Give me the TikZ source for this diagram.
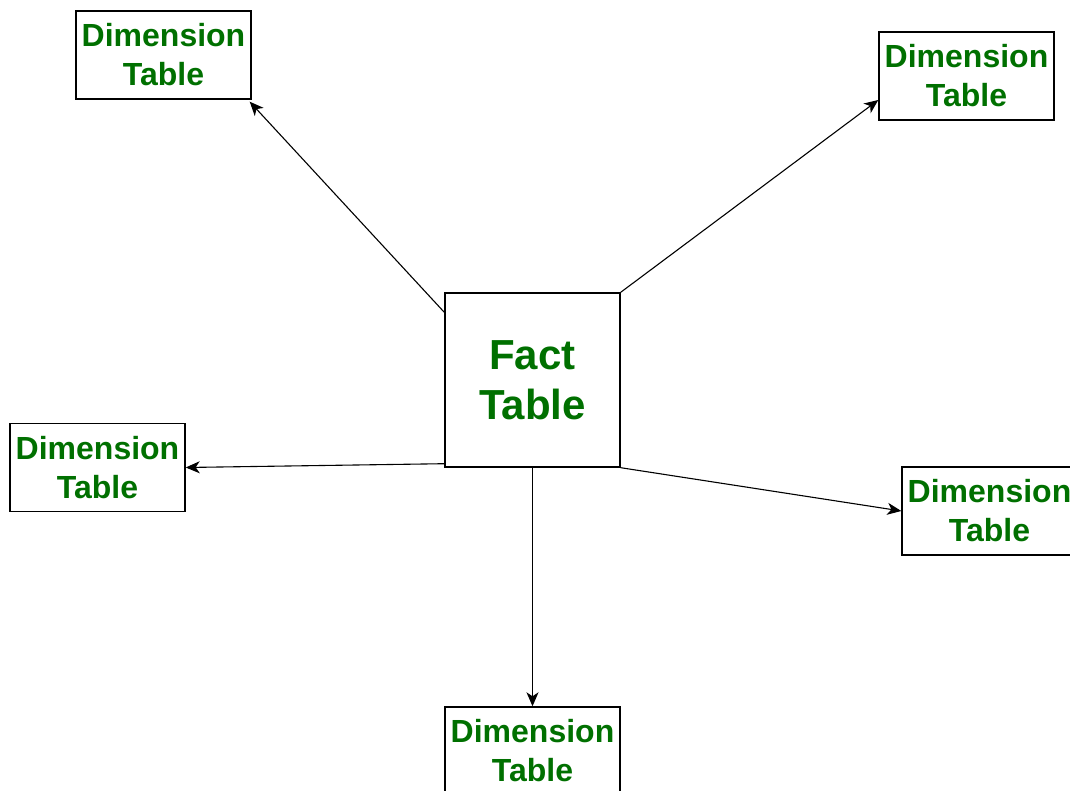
\documentclass[tikz,border=0pt]{standalone}
\usepackage{fontspec}
\setmainfont{Liberation Sans}
\usepackage{xcolor}
\usetikzlibrary{arrows.meta, positioning, calc}
\definecolor{tablegreen}{RGB}{0,112,0}

\tikzset{
  dimbox/.style={draw, line width=1.4pt, minimum width=175pt, minimum height=88pt, inner sep=0pt,
    align=center, text=tablegreen, font=\fontsize{32}{39}\selectfont\bfseries},
  factbox/.style={draw, line width=1.4pt, minimum width=175pt, minimum height=174pt, inner sep=0pt,
    align=center, text=tablegreen, font=\fontsize{42}{50}\selectfont\bfseries},
  link/.style={line width=1.1pt, -{Stealth[length=14pt,width=12pt,inset=4pt]}}
}

\begin{document}
\begin{tikzpicture}[x=1pt, y=-1pt]
\useasboundingbox (0,0) rectangle (1070,791);
\begin{scope}
\clip (0,0) rectangle (1070,791);
% fact table in the middle
\node [factbox] (fact) at (532.5, 380) {Fact\\Table};
% dimension tables around it
\node [dimbox] (dimTL) at (163.5, 55) {Dimension\\Table};
\node [dimbox] (dimTR) at (966.5, 76) {Dimension\\Table};
\node [dimbox] (dimL) at (97.5, 467.5) {Dimension\\Table};
\node [dimbox] (dimR) at (989.5, 511) {Dimension\\Table};
\node [dimbox] (dimB) at (532.5, 751) {Dimension\\Table};
% links
\draw [link] ([yshift=-20pt]fact.north west) -- ([xshift=-2pt,yshift=-2pt]dimTL.south east);
\draw [link] (fact.north east) -- ([yshift=-24pt]dimTR.west);
\draw [link] ([yshift=4pt]fact.south west) -- (dimL.east);
\draw [link] (fact.south east) -- (dimR.west);
\draw [link] (fact.south) -- (dimB.north);
\end{scope}
\end{tikzpicture}
\end{document}
